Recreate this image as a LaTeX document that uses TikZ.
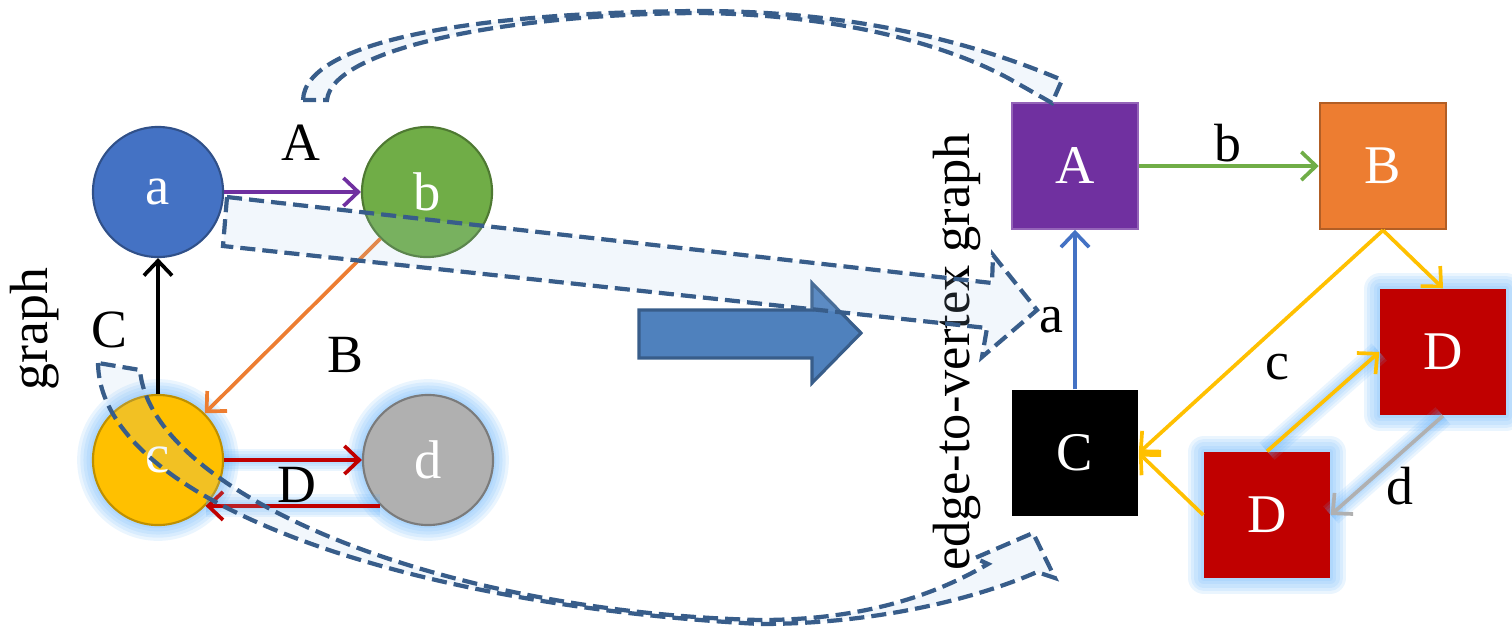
\documentclass[tikz,border=0pt]{standalone}
\usepackage{fontspec}
\setmainfont{Liberation Serif}
\usetikzlibrary{arrows.meta}

\definecolor{vblue}{HTML}{4472C4}
\definecolor{vgreen}{HTML}{70AD47}
\definecolor{vgold}{HTML}{FFC000}
\definecolor{vgray}{HTML}{B0B0B0}
\definecolor{vpurple}{HTML}{7030A0}
\definecolor{vorange}{HTML}{ED7D31}
\definecolor{vred}{HTML}{C00000}
\definecolor{dashline}{HTML}{385D8A}
\definecolor{dashfill}{RGB}{168,202,235}
\definecolor{bigblue}{HTML}{4F81BD}
\definecolor{haloblue}{RGB}{95,175,250}

\tikzset{
  vertex/.style={circle,minimum size=1.3cm,inner sep=0pt,line width=.6pt,text=white,
    font=\fontsize{15.5}{18}\selectfont},
  evertex/.style={rectangle,minimum size=1.26cm,inner sep=0pt,text=white,
    font=\fontsize{15.5}{18}\selectfont},
  lbl/.style={inner sep=0pt,font=\fontsize{15.3}{18}\selectfont},
  link/.style={line width=1.05pt,-{Straight Barb[length=4.2pt,width=8pt]}},
  glowring/.style={preaction={draw=haloblue,line width=#1,opacity=.13,line join=round,arrows=-}},
  halo/.style={glowring=9pt,glowring=7.2pt,glowring=5.4pt,glowring=3.6pt,glowring=1.8pt},
  linkhalo/.style={glowring=6.5pt,glowring=5pt,glowring=3.5pt,glowring=2pt},
  flow/.style={draw=dashline,line width=1.2pt,dash pattern=on 4.3pt off 2pt,
    fill=dashfill,fill opacity=.15},
}

\begin{document}
\begin{tikzpicture}[x=0.01cm,y=-0.01cm]
  \useasboundingbox (0,0) rectangle (1512,630);

  % the graph
  \node[vertex,fill=vblue,draw=vblue!70!black] (a) at (158,192) {a};
  \node[vertex,fill=vgreen,draw=vgreen!70!black] (b) at (427,192) {b};
  \node[vertex,fill=vgold,draw=vgold!75!black,halo] (c) at (158,460) {c};
  \node[vertex,fill=vgray,draw=vgray!70!black,halo] (d) at (428,460) {d};

  \draw[link,vpurple] (a) -- (b);
  \draw[link,vorange] (b.225) -- (c.45);
  \draw[link,black] (c) -- (a);
  \draw[link,vred,linkhalo] (c) -- (d);
  \draw[link,vred,linkhalo] (d.-136) -- (c.-44);

  \node[lbl] (lA) at (301,143) {A};
  \node[lbl] (lB) at (345,355) {B};
  \node[lbl] (lC) at (109,330) {C};
  \node[lbl] (lD) at (297,485) {D};
  \node[lbl,rotate=90] (gname) at (35,329) {graph};

  % its edge-to-vertex graph
  \node[evertex,fill=vpurple,draw=vpurple!75!white,line width=.4pt] (A) at (1075,166) {A};
  \node[evertex,fill=vorange,draw=vorange!75!black,line width=.7pt] (B) at (1383,166) {B};
  \node[evertex,fill=black] (C) at (1075,453) {C};
  \node[evertex,fill=vred,halo] (D1) at (1443,352) {D};
  \node[evertex,fill=vred,halo] (D2) at (1267,515) {D};

  \draw[link,vgreen] (A) -- (B);
  \draw[link,vblue] (C) -- (A);
  \draw[link,vgold] (B.south) -- (D1.north);
  \draw[link,vgold] (B.south) -- (C.east);
  \draw[link,vgold] (D2.west) -- (C.east);
  \draw[link,vgold,linkhalo] (D2.north) -- (D1.west);
  \draw[link,vgray,linkhalo] (D1.south) -- (D2.east);

  \node[lbl] (la) at (1051,320) {a};
  \node[lbl] (lb) at (1228,143) {b};
  \node[lbl] (lc) at (1277,367) {c};
  \node[lbl] (ld) at (1400,486) {d};
  \node[lbl,rotate=90,font=\fontsize{14.9}{18}\selectfont] (ename) at (957,352) {edge-to-vertex graph};

  % big arrow in the middle
  \draw[fill=bigblue,draw=dashline,line width=.9pt]
    (639,310) -- (812,310) -- (812,283) -- (861,333) -- (812,383) -- (812,358) -- (639,358) -- cycle;

  % dashed block arrows
  \draw[flow] (227,197) -- (992,283) -- (993,255) -- (1037,310) -- (982,357)
    -- (987,328) -- (223,246) -- cycle;
  \draw[flow] (303,100) .. controls (305,40) and (480,12) .. (700,11)
    .. controls (860,11) and (980,45) .. (1062,80) -- (1052,103) -- (1015,82)
    .. controls (965,53) and (860,15) .. (700,13)
    .. controls (500,14) and (332,50) .. (327,100) -- cycle;
  \draw[flow] (98,363) .. controls (100,500) and (400,605) .. (760,624)
    .. controls (880,624) and (980,597) .. (1037,572) -- (1055,578) -- (1033,533)
    -- (975,558) -- (988,564) .. controls (940,592) and (870,620) .. (760,620)
    .. controls (430,612) and (150,490) .. (140,370) -- cycle;
\end{tikzpicture}
\end{document}
